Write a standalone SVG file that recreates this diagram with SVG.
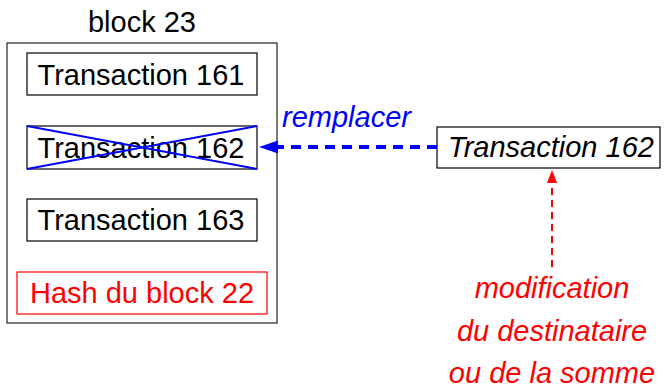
<svg xmlns="http://www.w3.org/2000/svg" width="665" height="389" viewBox="0 0 665 389">
<defs>
<style>
text{font-family:"Liberation Sans",Arial,sans-serif;font-size:29px}
.box{fill:#fff;stroke:#000;stroke-width:1.2}
.it{font-style:italic}
</style>
</defs>
<rect width="665" height="389" fill="#fff"/>
<g id="block23">
<rect x="7" y="43" width="270" height="280" fill="#fff" stroke="#222" stroke-width="1.2"/>
<text x="142" y="32" text-anchor="middle">block 23</text>
</g>
<g id="tx161">
<rect class="box" x="27" y="53" width="230" height="42"/>
<text x="141" y="85" text-anchor="middle">Transaction 161</text>
</g>
<g id="tx162">
<rect class="box" x="27" y="126" width="230" height="43"/>
<text x="141" y="158" text-anchor="middle">Transaction 162</text>
<line x1="27" y1="126" x2="257" y2="169" stroke="#0000ff" stroke-width="2"/>
<line x1="27" y1="169" x2="257" y2="126" stroke="#0000ff" stroke-width="2"/>
</g>
<g id="tx163">
<rect class="box" x="27" y="199" width="230" height="42"/>
<text x="141" y="230" text-anchor="middle">Transaction 163</text>
</g>
<g id="hash22">
<rect x="17" y="272" width="250" height="42" fill="#fff" stroke="#ff0000" stroke-width="1.2"/>
<text x="142" y="303" text-anchor="middle" fill="#ff0000">Hash du block 22</text>
</g>
<g id="tx162new">
<rect class="box" x="437" y="127" width="223" height="41"/>
<text class="it" x="551" y="157" text-anchor="middle">Transaction 162</text>
</g>
<g id="note">
<text class="it" x="552" y="298" text-anchor="middle" fill="#ff0000">modification</text>
<text class="it" x="552" y="341" text-anchor="middle" fill="#ff0000">du destinataire</text>
<text class="it" x="552" y="383" text-anchor="middle" fill="#ff0000">ou de la somme</text>
</g>
<g id="connectors">
<line x1="437" y1="147" x2="278" y2="147" stroke="#0000ff" stroke-width="4" stroke-dasharray="10,7"/>
<path d="M259,147 L278,140.5 L278,153.5 Z" fill="#0000ff"/>
<text class="it" x="282" y="127" fill="#0000ff">remplacer</text>
<line x1="552" y1="267" x2="552" y2="183" stroke="#ff0000" stroke-width="2" stroke-dasharray="7,5"/>
<path d="M552,170 L557,183 L547,183 Z" fill="#ff0000"/>
</g>
</svg>
